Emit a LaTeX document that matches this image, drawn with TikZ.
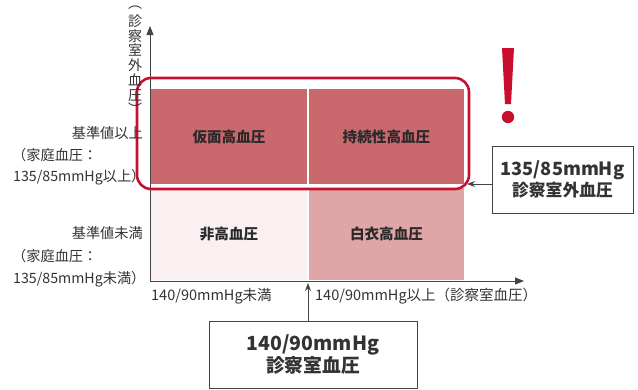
\documentclass[tikz,border=0pt]{standalone}
\usepackage{fontspec}
\setmainfont{Noto Sans CJK JP}
\usetikzlibrary{arrows.meta}
\definecolor{celltop}{HTML}{C9696D}
\definecolor{cellbl}{HTML}{FBF0F1}
\definecolor{cellbr}{HTML}{E0A5A7}
\definecolor{framered}{HTML}{C8102E}
\definecolor{txt}{HTML}{333333}
\definecolor{celltxt}{HTML}{2A2A2A}
\definecolor{axisgray}{HTML}{444444}
\tikzset{
  cell/.style={inner sep=0pt, font=\fontsize{14.6}{16}\selectfont\bfseries, text=celltxt},
  lbl/.style={inner sep=0pt, font=\fontsize{14.2}{16}\selectfont, text=txt},
  vlbl/.style={inner sep=0pt, font=\fontsize{14}{14.8}\selectfont, text=txt, align=center},
  xlbl/.style={inner sep=0pt, font=\fontsize{14.5}{16}\selectfont, text=txt, anchor=west},
  infobox/.style={draw=axisgray, line width=0.8pt, fill=white, inner sep=0pt, align=center, text=txt},
  axisline/.style={draw=axisgray, line width=1pt, -{Triangle[length=9pt,width=7pt]}},
  pointer/.style={draw=axisgray, line width=0.9pt, -{Stealth[length=8pt,width=6pt]}}
}
\begin{document}
\begin{tikzpicture}[x=1pt,y=-1pt]
\useasboundingbox (0,0) rectangle (638,389);
\fill[white] (0,0) rectangle (638,389);
% cells
\node[cell, fill=celltop, minimum width=156pt, minimum height=95pt] (tl) at (229,136.5) {仮面高血圧};
\node[cell, fill=celltop, minimum width=155pt, minimum height=95pt] (tr) at (386.5,136.5) {持続性高血圧};
\node[cell, fill=cellbl, minimum width=156pt, minimum height=92pt] (bl) at (229,234) {非高血圧};
\node[cell, fill=cellbr, minimum width=155pt, minimum height=92pt] (br) at (386.5,234) {白衣高血圧};
% axes
\coordinate (origin) at (150,281);
\coordinate (ytip) at (150,26);
\coordinate (xtip) at (524,281);
\draw[axisline] (origin) -- (ytip);
\draw[axisline] (origin) -- (xtip);
% red frame
\draw[framered, line width=2.6pt, rounded corners=14pt] (137,78) rectangle (469,189);
% vertical label
\node[vlbl] (yp1) at (135,8) {︵};
\node[vlbl] (ylab) at (135,58) {診\\察\\室\\外\\血\\圧};
\node[vlbl] (yp2) at (135,109) {︶};
% left labels
\node[lbl, anchor=east] (hi1) at (143,133) {基準値以上};
\node[lbl, anchor=west] (hi2) at (12,155.5) {（家庭血圧：};
\node[lbl, anchor=west] (hi3) at (13,177.5) {135/85mmHg以上）};
\node[lbl, anchor=east] (lo1) at (143,233) {基準値未満};
\node[lbl, anchor=west] (lo2) at (12,256) {（家庭血圧：};
\node[lbl, anchor=west] (lo3) at (13,279) {135/85mmHg未満）};
% x labels
\node[xlbl] (xl1) at (151,296) {140/90mmHg未満};
\node[xlbl] (xl2) at (315,296) {140/90mmHg以上（診察室血圧）};
% boxes
\node[infobox, minimum width=141pt, minimum height=67pt] (box1) at (562.5,179.5)
  {{\fontsize{18.2}{26}\selectfont\bfseries 135/85mmHg}\\[1pt]{\fontsize{16.8}{26}\selectfont\bfseries 診察室外血圧}};
\coordinate (a1) at (467,184);
\draw[pointer] (box1.west |- a1) -- (a1);
\node[infobox, minimum width=208pt, minimum height=67pt] (box2) at (313,354.5)
  {{\fontsize{19.5}{26}\selectfont\bfseries 140/90mmHg}\\[0pt]{\fontsize{18.8}{26}\selectfont\bfseries 診察室血圧}};
\coordinate (a2) at (308,283);
\draw[pointer] (box2.north -| a2) -- (a2);
% exclamation
\fill[framered] (502,48) -- (514,48) -- (511,104) -- (505,104) -- cycle;
\fill[framered] (508,117) circle (6.2);
\end{tikzpicture}
\end{document}
